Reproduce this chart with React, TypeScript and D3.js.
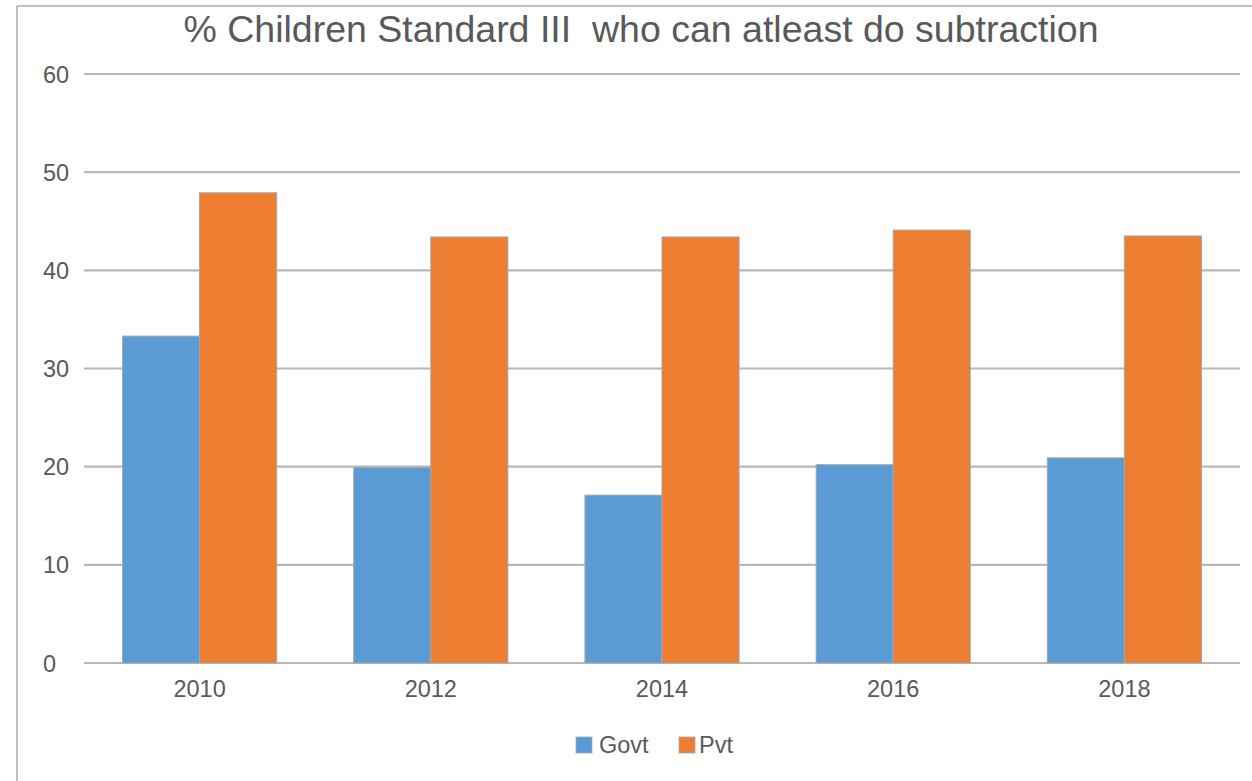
import React from "react";
import * as d3 from "d3";

const years = ["2010", "2012", "2014", "2016", "2018"];
const govt = [33.3, 19.9, 17.1, 20.2, 20.9];
const pvt = [47.9, 43.4, 43.4, 44.1, 43.5];
const seriesNames = ["Govt", "Pvt"];
const seriesColors = ["#5B9BD5", "#ED7D31"];
const yTicks = [0, 10, 20, 30, 40, 50, 60];
const title = "% Children Standard III  who can atleast do subtraction";

export default function App() {
  const W = 1252, H = 781;
  const left = 84, right = 1240, top = 74, bottom = 663;
  const x = d3.scaleBand<string>().domain(years).range([left, right]).paddingInner(1 / 3).paddingOuter(1 / 6);
  const inner = d3.scaleBand<string>().domain(seriesNames).range([0, x.bandwidth()]);
  const y = d3.scaleLinear().domain([0, 60]).range([bottom, top]);
  const series = [govt, pvt];
  const font = "Liberation Sans, Arial, sans-serif";
  const textColor = "#595959";
  const fs = 23.5;

  return (
    <svg width={W} height={H} style={{ position: "absolute", left: 0, top: 0, background: "#fff" }}>
      <rect x={0} y={0} width={W} height={H} fill="#fff" />
      <line x1={17} y1={6} x2={W} y2={6} stroke="#a3acb9" strokeWidth={1.5} />
      <line x1={17} y1={6} x2={17} y2={H} stroke="#a3acb9" strokeWidth={1.5} />
      <text x={641} y={42} textAnchor="middle" fontFamily={font} fontSize={37.5} fill={textColor} style={{ whiteSpace: "pre" }}>
        {title}
      </text>
      {yTicks.map((t) => (
        <g key={t}>
          <line x1={left} x2={right} y1={y(t)} y2={y(t)} stroke="#b8b8b8" strokeWidth={2.2} />
          <text x={43} y={y(t) + 8.5} fontFamily={font} fontSize={fs} fill={textColor}>{t}</text>
        </g>
      ))}
      {years.map((yr, i) => (
        <g key={yr}>
          {series.map((s, j) => (
            <rect
              key={j}
              x={(x(yr) as number) + (inner(seriesNames[j]) as number)}
              y={y(s[i])}
              width={inner.bandwidth()}
              height={y(0) - y(s[i])}
              fill={seriesColors[j]}
              stroke="#a6a6a6"
              strokeWidth={1}
            />
          ))}
          <text x={(x(yr) as number) + x.bandwidth() / 2} y={697} textAnchor="middle" fontFamily={font} fontSize={fs} fill={textColor}>{yr}</text>
        </g>
      ))}
      <g>
        <rect x={576} y={737} width={16} height={16} fill={seriesColors[0]} stroke="#a6a6a6" strokeWidth={0.8} />
        <text x={599} y={753} fontFamily={font} fontSize={fs} fill={textColor}>{seriesNames[0]}</text>
        <rect x={679} y={737} width={16} height={16} fill={seriesColors[1]} stroke="#a6a6a6" strokeWidth={0.8} />
        <text x={699} y={753} fontFamily={font} fontSize={fs} fill={textColor}>{seriesNames[1]}</text>
      </g>
    </svg>
  );
}
